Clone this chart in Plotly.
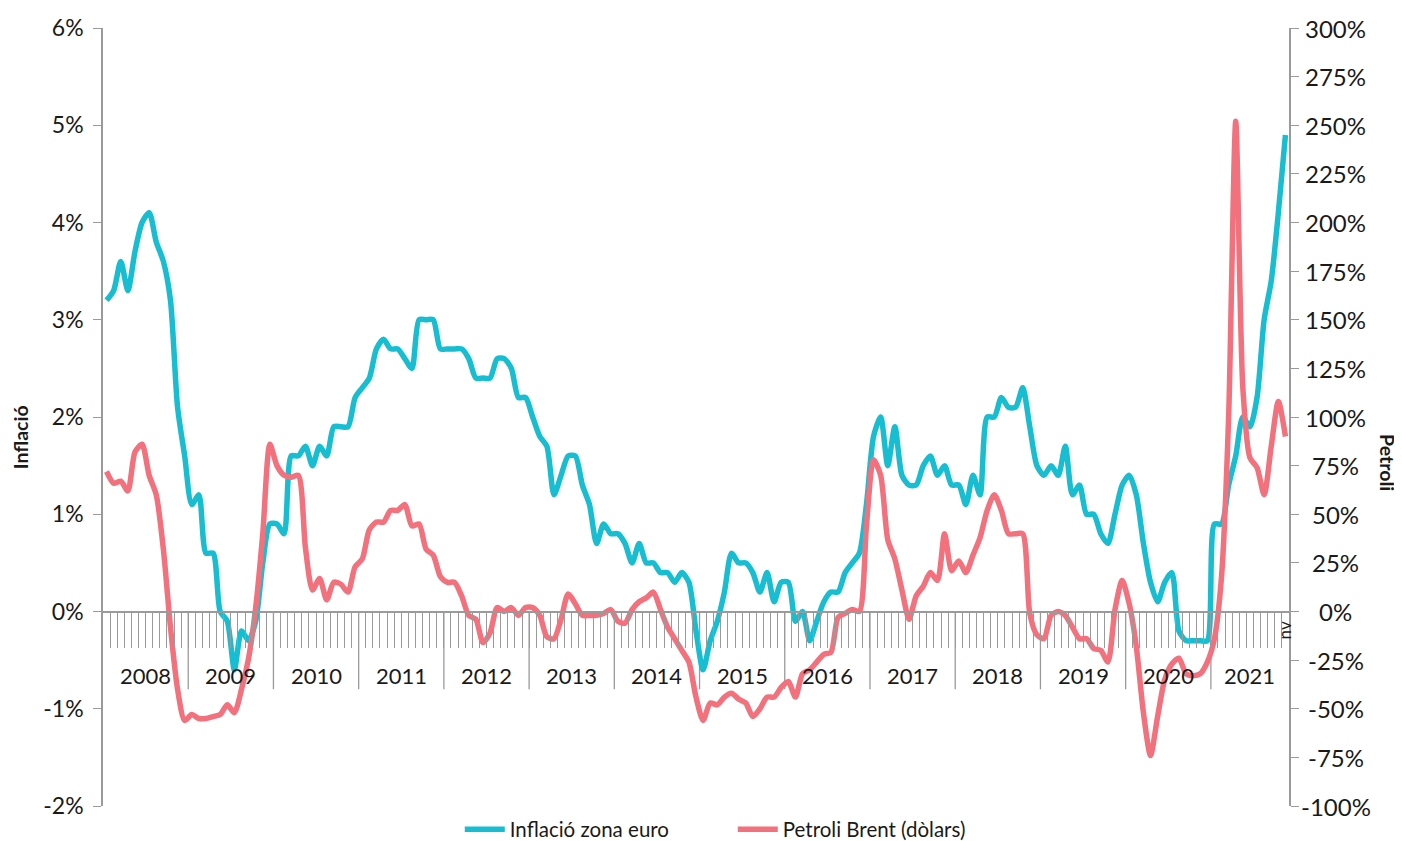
import plotly.graph_objects as go

# ---------------- data ----------------
years = ["2008", "2009", "2010", "2011", "2012", "2013", "2014",
         "2015", "2016", "2017", "2018", "2019", "2020", "2021"]
last_month_label = "nv"

inflation = [
    3.2, 3.3, 3.6, 3.3, 3.7, 4.0, 4.1, 3.8, 3.6, 3.2, 2.1, 1.6,      # 2008
    1.1, 1.2, 0.6, 0.6, 0.0, -0.1, -0.6, -0.2, -0.3, -0.1, 0.5, 0.9, # 2009
    0.9, 0.8, 1.6, 1.6, 1.7, 1.5, 1.7, 1.6, 1.9, 1.9, 1.9, 2.2,      # 2010
    2.3, 2.4, 2.7, 2.8, 2.7, 2.7, 2.6, 2.5, 3.0, 3.0, 3.0, 2.7,      # 2011
    2.7, 2.7, 2.7, 2.6, 2.4, 2.4, 2.4, 2.6, 2.6, 2.5, 2.2, 2.2,      # 2012
    2.0, 1.8, 1.7, 1.2, 1.4, 1.6, 1.6, 1.3, 1.1, 0.7, 0.9, 0.8,      # 2013
    0.8, 0.7, 0.5, 0.7, 0.5, 0.5, 0.4, 0.4, 0.3, 0.4, 0.3, -0.2,     # 2014
    -0.6, -0.3, -0.1, 0.2, 0.6, 0.5, 0.5, 0.4, 0.2, 0.4, 0.1, 0.3,   # 2015
    0.3, -0.1, 0.0, -0.3, -0.1, 0.1, 0.2, 0.2, 0.4, 0.5, 0.6, 1.1,   # 2016
    1.8, 2.0, 1.5, 1.9, 1.4, 1.3, 1.3, 1.5, 1.6, 1.4, 1.5, 1.3,      # 2017
    1.3, 1.1, 1.4, 1.2, 2.0, 2.0, 2.2, 2.1, 2.1, 2.3, 1.9, 1.5,      # 2018
    1.4, 1.5, 1.4, 1.7, 1.2, 1.3, 1.0, 1.0, 0.8, 0.7, 1.0, 1.3,      # 2019
    1.4, 1.2, 0.7, 0.3, 0.1, 0.3, 0.4, -0.2, -0.3, -0.3, -0.3, -0.3, # 2020
    0.9, 0.9, 1.3, 1.6, 2.0, 1.9, 2.2, 3.0, 3.4, 4.1, 4.9,           # 2021 (gen-nov)
]

brent = [
    72, 66, 67, 62, 82, 86, 70, 60, 32, -8, -40, -56,          # 2008
    -53, -55, -55, -54, -53, -48, -52, -40, -24, 2, 40, 86,    # 2009
    75, 70, 69, 70, 33, 11, 17, 6, 15, 14, 10, 23,             # 2010
    27, 42, 46, 46, 52, 52, 55, 44, 45, 32, 29, 18,            # 2011
    15, 15, 8, -2, -4, -16, -11, 2, 0, 2, -2, 2,               # 2012
    2, -2, -13, -14, -4, 9, 4, -2, -2, -2, -1, 1,              # 2013
    -5, -6, 1, 5, 7, 10, 1, -8, -14, -20, -26, -44,            # 2014
    -56, -47, -48, -44, -42, -45, -47, -54, -50, -44, -44, -39,# 2015
    -36, -44, -32, -30, -26, -22, -21, -3, -1, 1, 0, 44,       # 2016
    78, 70, 37, 27, 11, -4, 8, 13, 20, 16, 40, 21,             # 2017
    26, 20, 29, 38, 52, 60, 52, 40, 40, 40, -1, -12,           # 2018
    -14, -2, 0, -2, -8, -14, -14, -19, -20, -26, 1, 16,        # 2019
    4, -18, -52, -74, -54, -35, -27, -24, -32, -33, -32, -26,  # 2020
    -14, 18, 100, 252, 115, 79, 74, 60, 85, 108, 90,           # 2021
]

left_tick_vals = [-2, -1, 0, 1, 2, 3, 4, 5, 6]
left_tick_text = ["-2%", "-1%", "0%", "1%", "2%", "3%", "4%", "5%", "6%"]
right_tick_vals = [-100, -75, -50, -25, 0, 25, 50, 75, 100, 125, 150, 175, 200, 225, 250, 275, 300]
right_tick_text = ["-100%", "-75%", "-50%", "-25%", "0%", "25%", "50%", "75%", "100%",
                   "125%", "150%", "175%", "200%", "225%", "250%", "275%", "300%"]

series_names = ["Inflació zona euro", "Petroli Brent (dòlars)"]
axis_titles = ["Inflació", "Petroli"]

# ---------------- styling ----------------
TEAL = "#17BED2"
PINK = "#F3707D"
GREY = "#9a9a9a"
TXT = "#1a1a1a"
FONT = "Lato"

n = len(inflation)
idx = list(range(n))

fig = go.Figure()
fig.add_trace(go.Scatter(
    x=idx, y=inflation, name=series_names[0], mode="lines",
    line=dict(color=TEAL, width=5.5, shape="spline", smoothing=0.7),
    hoverinfo="skip"))
fig.add_trace(go.Scatter(
    x=idx, y=brent, name=series_names[1], mode="lines", yaxis="y2",
    line=dict(color=PINK, width=5.5, shape="spline", smoothing=0.7),
    hoverinfo="skip"))

month_bounds = [i - 0.5 for i in range(1, n)]

shapes = []
annotations = []
for k, yr in enumerate(years):
    start = k * 12
    end = min(start + 11, n - 1)
    if k > 0:
        shapes.append(dict(type="line", xref="x", yref="y",
                           x0=start - 0.5, x1=start - 0.5, y0=0, y1=-0.8,
                           line=dict(color=GREY, width=1.3), layer="below"))
    annotations.append(dict(x=(start + end) / 2, y=-0.655, xref="x", yref="y",
                            text=yr, showarrow=False,
                            font=dict(size=22, color=TXT, family=FONT)))

# right-axis tick labels, centred in the right margin as in the original
for v, t in zip(right_tick_vals, right_tick_text):
    annotations.append(dict(x=1.0396, y=v, xref="paper", yref="y2", text=t,
                            xanchor="center", yanchor="middle", showarrow=False,
                            font=dict(size=24, color=TXT, family=FONT)))

annotations.append(dict(x=n - 1, y=-0.19, xref="x", yref="y", text=last_month_label,
                        showarrow=False, textangle=-90,
                        font=dict(size=17, color=TXT, family=FONT)))
annotations.append(dict(x=-0.07, y=0.474, xref="paper", yref="paper",
                        xanchor="center", yanchor="middle",
                        text="<b>" + axis_titles[0] + "</b>",
                        showarrow=False, textangle=-90,
                        font=dict(size=19.5, color=TXT, family=FONT)))
annotations.append(dict(x=1.0835, y=0.442, xref="paper", yref="paper",
                        xanchor="center", yanchor="middle",
                        text="<b>" + axis_titles[1] + "</b>",
                        showarrow=False, textangle=90,
                        font=dict(size=19.5, color=TXT, family=FONT)))

fig.update_layout(
    width=1394, height=833,
    margin=dict(l=95, r=113, t=20, b=35, autoexpand=False),
    plot_bgcolor="white", paper_bgcolor="white",
    font=dict(family=FONT, color=TXT, size=21),
    showlegend=True,
    legend=dict(orientation="h", x=0.531, xanchor="center", y=-0.03, yanchor="middle",
                font=dict(size=20.5, family=FONT, color=TXT), entrywidth=218,
                itemwidth=40, bgcolor="rgba(0,0,0,0)"),
    xaxis=dict(range=[-0.5, n - 0.5], anchor="free", position=0.25,
               showline=True, linecolor=GREY, linewidth=1.5,
               tickmode="array", tickvals=month_bounds, ticks="outside", ticklen=36,
               tickcolor=GREY, tickwidth=1.2, showticklabels=False,
               showgrid=False, zeroline=False, fixedrange=True),
    yaxis=dict(range=[-2, 6], tickmode="array", tickvals=left_tick_vals, ticktext=left_tick_text,
               showline=True, linecolor=GREY, linewidth=1.5, ticks="outside", ticklen=8,
               tickcolor=GREY, showgrid=False, zeroline=False, ticklabelstandoff=5,
               tickfont=dict(size=23, family=FONT, color=TXT)),
    yaxis2=dict(range=[-100, 300], overlaying="y", side="right", anchor="x",
                tickmode="array", tickvals=right_tick_vals, showticklabels=False,
                showline=True, linecolor=GREY, linewidth=1.5, ticks="outside", ticklen=8,
                tickcolor=GREY, showgrid=False, zeroline=False),
    shapes=shapes,
    annotations=annotations,
)

fig.write_html("out.html")
